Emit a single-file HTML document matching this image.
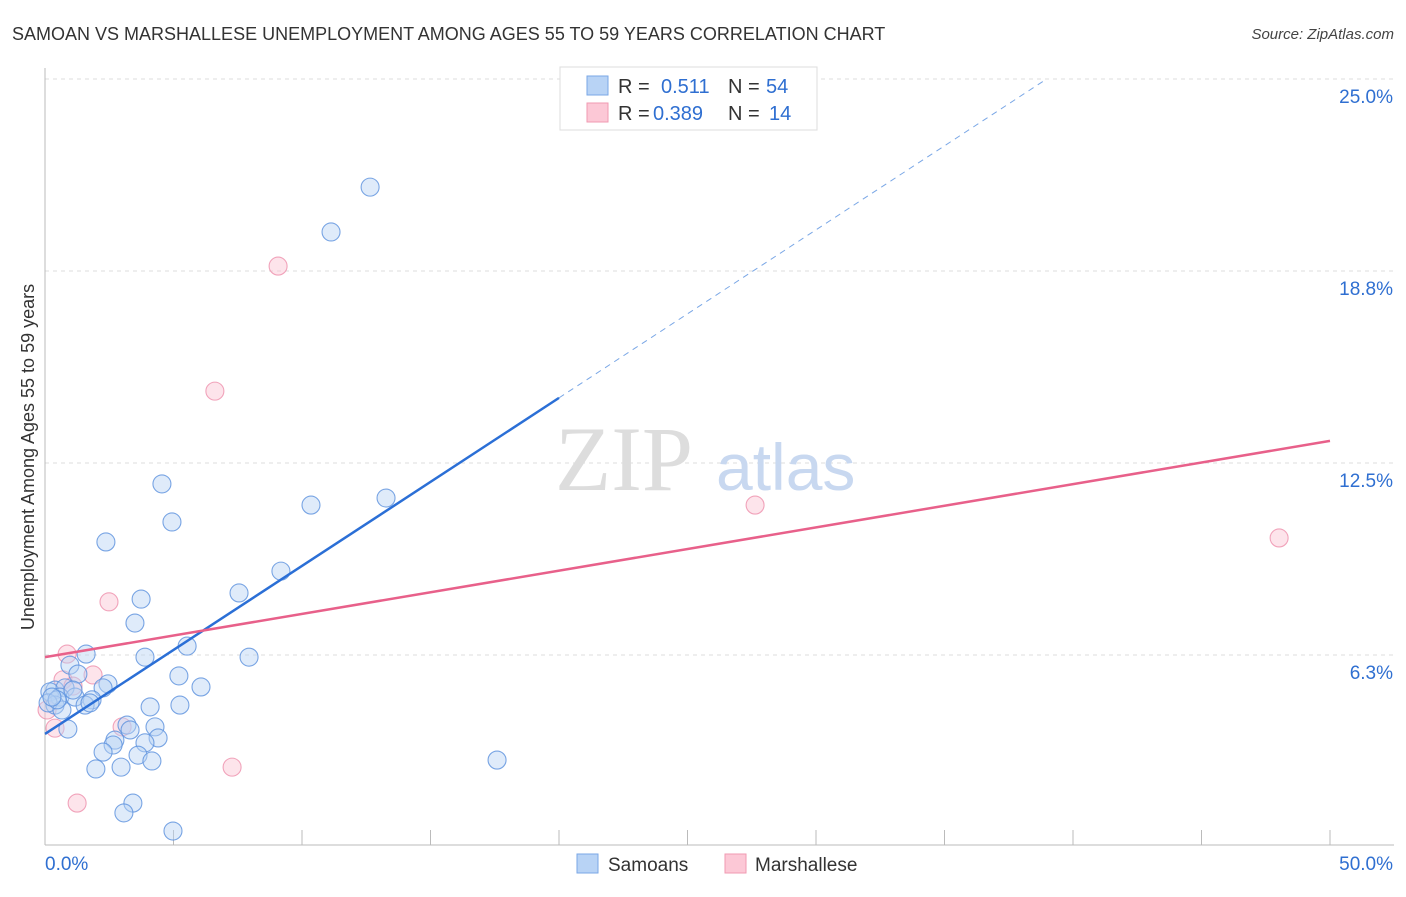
<!DOCTYPE html>
<html><head><meta charset="utf-8"><style>
body{margin:0;background:#fff;font-family:"Liberation Sans",sans-serif;}
svg text{font-family:"Liberation Sans",sans-serif;}
</style></head><body>
<svg id="chart" width="1406" height="892" xmlns="http://www.w3.org/2000/svg">
<text x="12" y="40" font-size="18" fill="#333">SAMOAN VS MARSHALLESE UNEMPLOYMENT AMONG AGES 55 TO 59 YEARS CORRELATION CHART</text>
<text x="1394" y="39" font-size="15" fill="#444" text-anchor="end" font-style="italic">Source: ZipAtlas.com</text>
<g id="grid"></g>
<text x="555" y="490" font-size="92" fill="#ddd" font-family="Liberation Serif" style="font-family:'Liberation Serif',serif">ZIP</text>
<text x="716" y="490" font-size="66" fill="#c8d8f0">atlas</text>
<g id="marks"></g>
<text transform="translate(34,457) rotate(-90)" font-size="18" fill="#333" text-anchor="middle">Unemployment Among Ages 55 to 59 years</text>
<g>
<rect x="560" y="67" width="257" height="63" fill="#fff" stroke="#ddd"/>
<rect x="587" y="76" width="21" height="19" fill="#b8d3f5" stroke="#7aa7e6"/>
<rect x="587" y="103" width="21" height="19" fill="#fcc8d6" stroke="#f09ab2"/>
<text x="618" y="93" font-size="20" fill="#333">R =</text><text x="661" y="93" font-size="20" fill="#2f6fd1">0.511</text>
<text x="728" y="93" font-size="20" fill="#333">N =</text><text x="766" y="93" font-size="20" fill="#2f6fd1">54</text>
<text x="618" y="120" font-size="20" fill="#333">R =</text><text x="653" y="120" font-size="20" fill="#2f6fd1">0.389</text>
<text x="728" y="120" font-size="20" fill="#333">N =</text><text x="769" y="120" font-size="20" fill="#2f6fd1">14</text>
</g>
<g>
<rect x="577" y="854" width="21" height="19" fill="#b8d3f5" stroke="#7aa7e6"/>
<text x="608" y="871" font-size="19" fill="#333">Samoans</text>
<rect x="725" y="854" width="21" height="19" fill="#fcc8d6" stroke="#f09ab2"/>
<text x="755" y="871" font-size="19" fill="#333">Marshallese</text>
</g>
<text x="45" y="870" font-size="19" fill="#2f6fd1">0.0%</text>
<text x="1393" y="870" font-size="19" fill="#2f6fd1" text-anchor="end">50.0%</text>
</svg>
<script>
const yTicks=[25.0,18.8,12.5,6.3];
const yTickVals=[25,18.75,12.5,6.25];
const samoanX=[12.65,11.13,4.55,4.94,2.37,10.35,13.27,9.18,7.55,3.74,3.50,5.53,7.94,3.89,1.60,0.97,1.28,5.21,6.07,2.45,2.26,0.39,0.19,0.78,0.58,1.17,1.83,1.56,1.75,0.39,0.12,0.66,4.09,5.25,3.19,4.28,3.31,0.89,2.72,2.65,4.40,3.89,2.26,3.62,4.16,1.98,2.96,17.59,3.42,3.07,4.98,0.47,1.09,0.27];
const samoanY=[21.48,20.02,11.82,10.58,9.93,11.13,11.36,8.98,8.27,8.07,7.29,6.54,6.18,6.18,6.28,5.92,5.63,5.57,5.21,5.31,5.18,5.11,5.05,5.18,4.88,4.88,4.79,4.62,4.69,4.62,4.69,4.46,4.56,4.62,3.97,3.91,3.81,3.84,3.48,3.32,3.55,3.39,3.09,2.99,2.80,2.54,2.60,2.83,1.43,1.11,0.52,4.79,5.11,4.88];
const marshX=[9.07,6.61,27.63,48.02,2.49,0.86,1.87,0.70,1.09,0.08,0.39,3.00,7.28,1.25];
const marshY=[18.91,14.84,11.13,10.06,7.98,6.28,5.60,5.44,5.24,4.46,3.87,3.91,2.60,1.43];
const samoanTrend=[3.68,0.547];
const marshTrend=[6.18,0.1408];
const xs=v=>45+v/50*1285, ys=v=>847-v/6.25*192;
const NS='http://www.w3.org/2000/svg';
function mk(t,a,p){const e=document.createElementNS(NS,t);for(const k in a)e.setAttribute(k,a[k]);p.appendChild(e);return e;}
const g=document.getElementById('grid'),m=document.getElementById('marks');
yTickVals.forEach((v,i)=>{
 const l=mk('line',{x1:45,x2:1394,y1:ys(v),y2:ys(v),stroke:'#ddd','stroke-dasharray':'4,4'},g);
 
 
 const t=mk('text',{x:1393,y:ys(v)+24,'font-size':19,fill:'#2f6fd1','text-anchor':'end'},g);
 t.textContent=yTicks[i].toFixed(1)+'%';
 
 
});
mk('line',{x1:45,x2:45,y1:68,y2:845,stroke:'#bbb'},g);
mk('line',{x1:45,x2:1394,y1:845,y2:845,stroke:'#bbb'},g);
for(let i=0;i<=10;i++){const l=mk('line',{x1:xs(i*5),x2:xs(i*5),y1:830,y2:845,stroke:'#bbb'},g);
 
 }
function dots(X,Y,f,s,n){X.forEach((x,i)=>{const c=mk('circle',{cx:xs(x),cy:ys(Y[i]),r:9,fill:f,'fill-opacity':0.45,stroke:s,'stroke-width':1.1,'stroke-opacity':0.8},m);
 
 });}
dots(marshX,marshY,'#fbc4d3','#ee8fab','marshallese-point');
dots(samoanX,samoanY,'#b9d3f4','#5a90dd','samoan-point');
const b=samoanTrend, xe=(25-b[0])/b[1];
let l=mk('line',{x1:xs(0),y1:ys(b[0]),x2:xs(20),y2:ys(b[0]+b[1]*20),stroke:'#2b6fd6','stroke-width':2.5},m);


l=mk('line',{x1:xs(20),y1:ys(b[0]+b[1]*20),x2:xs(xe),y2:ys(25),stroke:'#7aa7e6','stroke-width':1,'stroke-dasharray':'6,5'},m);


const p=marshTrend;
l=mk('line',{x1:xs(0),y1:ys(p[0]),x2:xs(50),y2:ys(p[0]+p[1]*50),stroke:'#e8608a','stroke-width':2.5},m);


</script>
</body></html>
